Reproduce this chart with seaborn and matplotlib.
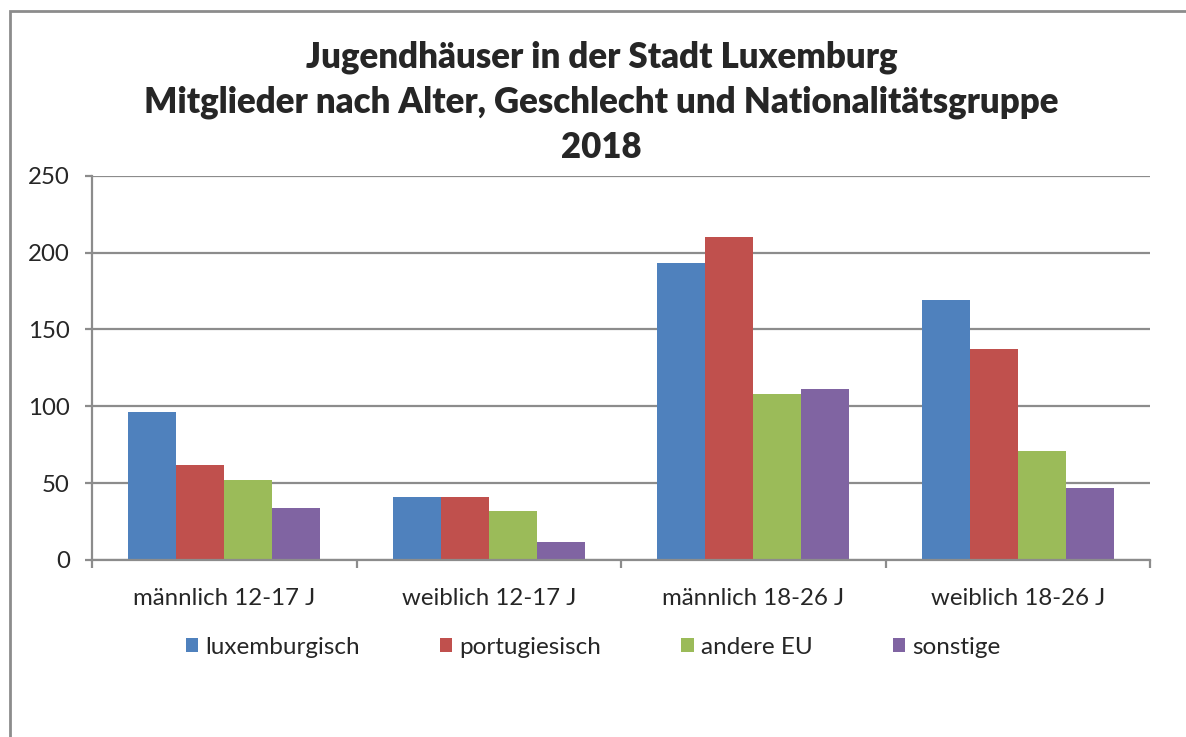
import matplotlib

matplotlib.use("Agg")
import matplotlib.pyplot as plt
import numpy as np
import pandas as pd
import seaborn as sns
from matplotlib.patches import Patch, Rectangle

# data
categories = ["männlich 12-17 J", "weiblich 12-17 J", "männlich 18-26 J", "weiblich 18-26 J"]
groups = ["luxemburgisch", "portugiesisch", "andere EU", "sonstige"]
luxemburgisch = [96, 41, 193, 169]
portugiesisch = [62, 41, 210, 137]
andere_eu = [52, 32, 108, 71]
sonstige = [34, 12, 111, 47]
colors = ["#4F81BD", "#C0504D", "#9BBB59", "#8064A2"]

df = pd.DataFrame({
    "kategorie": categories * 4,
    "gruppe": np.repeat(groups, len(categories)),
    "wert": luxemburgisch + portugiesisch + andere_eu + sonstige,
})

sns.set_style("white")
plt.rcParams["font.family"] = ["Lato", "DejaVu Sans"]
grey = "#8C8C8C"

fig = plt.figure(figsize=(11.86, 7.37), dpi=100)
ax = fig.add_axes([92 / 1186, 1 - 560 / 737, (1150 - 92) / 1186, (560 - 175.7) / 737])

sns.barplot(data=df, x="kategorie", y="wert", hue="gruppe", hue_order=groups,
            order=categories, palette=colors, width=0.727, saturation=1,
            edgecolor="none", ax=ax, legend=False)

ax.set_ylim(0, 250)
ax.set_xlim(-0.5, 3.5)
ax.set_yticks(np.arange(0, 251, 50))
ax.set_xlabel("")
ax.set_ylabel("")
ax.grid(axis="y", color=grey, linewidth=1.6)
ax.set_axisbelow(True)
for s in ["top", "right"]:
    ax.spines[s].set_visible(False)
for s in ["left", "bottom"]:
    ax.spines[s].set_color(grey)
    ax.spines[s].set_linewidth(1.6)

ax.tick_params(axis="y", direction="out", length=5, width=1.6, color=grey,
               labelsize=17.3, pad=11, left=True)
ax.tick_params(axis="x", which="major", length=0, labelsize=17.3, pad=20)
ax.set_xticks(np.arange(-0.5, 3.6, 1), minor=True)
ax.tick_params(axis="x", which="minor", direction="out", length=6, width=1.6,
               color=grey, bottom=True)

title_lines = ["Jugendhäuser in der Stadt Luxemburg",
               "Mitglieder nach Alter, Geschlecht und Nationalitätsgruppe",
               "2018"]
for i, line in enumerate(title_lines):
    fig.text(0.507, 1 - (57 + 45.5 * i) / 737, line, ha="center", va="center",
             fontsize=25, fontweight="heavy")

handles = [Patch(facecolor=c, edgecolor="none") for c in colors]
fig.legend(handles, groups, loc="center", bbox_to_anchor=(0.5, 1 - 647 / 737),
           ncol=4, frameon=False, fontsize=17.5, handlelength=0.5, handleheight=0.5,
           handletextpad=0.3, columnspacing=3.3)

fig.patches.append(Rectangle((10 / 1186, -0.1), 1.2, 1.1 - 11 / 737,
                             transform=fig.transFigure, fill=False,
                             edgecolor=grey, linewidth=2))

fig.savefig("out.png", dpi=100)
